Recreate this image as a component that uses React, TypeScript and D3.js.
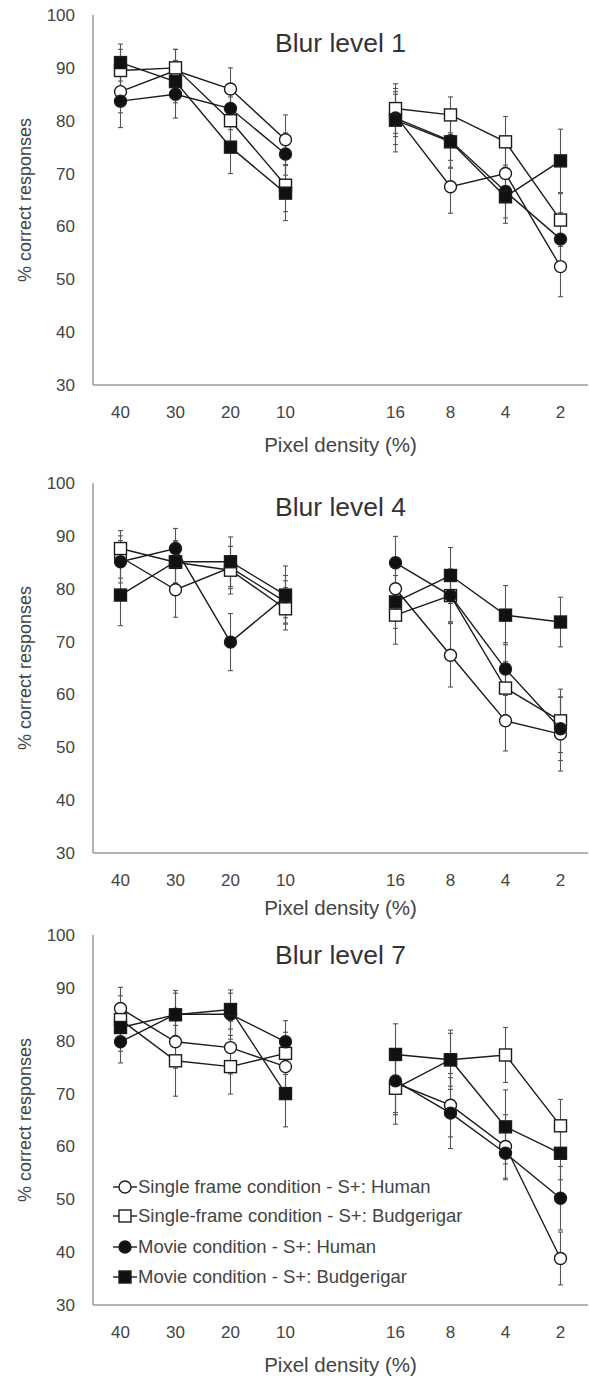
import React from "react";
import * as d3 from "d3";

// pixel density categories; "gap" is the empty slot between the two groups
const densityKeys = ["40", "30", "20", "10", "gap", "16", "8", "4", "2"];
const leftDensities = ["40", "30", "20", "10"];
const rightDensities = ["16", "8", "4", "2"];
const yTicks = [30, 40, 50, 60, 70, 80, 90, 100];

const seriesNames = [
  "Single frame condition - S+: Human",
  "Single-frame condition - S+: Budgerigar",
  "Movie condition - S+: Human",
  "Movie condition - S+: Budgerigar",
];

const blurTitles = ["Blur level 1", "Blur level 4", "Blur level 7"];

// Blur level 1 (values in density order 40,30,20,10,16,8,4,2)
const blur1SfHuman = [85.5, 89.5, 86, 76.4, 81, 67.5, 70, 52.4];
const blur1SfBudgie = [89.5, 90, 80, 67.8, 82.3, 81.1, 76, 61.2];
const blur1MovHuman = [83.7, 85, 82.3, 73.7, 80.5, 76.2, 66.6, 57.6];
const blur1MovBudgie = [91, 87.4, 75, 66.3, 80.1, 76, 65.6, 72.4];
const blur1SfHumanErr = [4, 4, 4, 4.7, 4, 5, 5, 5.7];
const blur1SfBudgieErr = [4, 3.5, 4.5, 5, 4.7, 3.4, 4.8, 5];
const blur1MovHumanErr = [5, 4.5, 4, 4, 5, 5, 5, 5];
const blur1MovBudgieErr = [3.5, 4, 5, 5.2, 6, 5, 5, 6];

// Blur level 4
const blur4SfHuman = [86, 79.8, 84, 77.5, 80, 67.4, 55, 52.5];
const blur4SfBudgie = [87.6, 85, 83.5, 76.2, 75, 78.7, 61.2, 55];
const blur4MovHuman = [85.1, 87.6, 69.9, 78.5, 84.9, 78.7, 64.8, 53.5];
const blur4MovBudgie = [78.8, 85.1, 85.1, 78.8, 77.5, 82.5, 75, 73.7];
const blur4SfHumanErr = [4, 5.2, 4, 4, 5, 6, 5.7, 7];
const blur4SfBudgieErr = [3.4, 4, 4.5, 4, 5.5, 5, 5, 6];
const blur4MovHumanErr = [4, 3.8, 5.4, 4, 5, 5, 5, 6];
const blur4MovBudgieErr = [5.8, 4, 4.7, 5.5, 5, 5.3, 5.6, 4.7];

// Blur level 7
const blur7SfHuman = [86.1, 79.8, 78.7, 75.1, 72, 67.8, 60, 38.8];
const blur7SfBudgie = [84, 76.2, 75.1, 77.6, 71, 76.4, 77.3, 63.9];
const blur7MovHuman = [79.8, 85, 85, 79.8, 72.4, 66.3, 58.7, 50.2];
const blur7MovBudgie = [82.5, 84.9, 85.9, 70, 77.4, 76.4, 63.7, 58.7];
const blur7SfHumanErr = [4, 5, 5, 4, 6, 6, 6, 5];
const blur7SfBudgieErr = [4.5, 6.7, 5.2, 4, 6.8, 5, 5.2, 5];
const blur7MovHumanErr = [4, 4, 4, 4, 6, 6.7, 5, 6];
const blur7MovBudgieErr = [4.5, 4.6, 3.7, 6.3, 5.8, 5.6, 7, 5];

const panelValues = [
  [blur1SfHuman, blur1SfBudgie, blur1MovHuman, blur1MovBudgie],
  [blur4SfHuman, blur4SfBudgie, blur4MovHuman, blur4MovBudgie],
  [blur7SfHuman, blur7SfBudgie, blur7MovHuman, blur7MovBudgie],
];
const panelErrors = [
  [blur1SfHumanErr, blur1SfBudgieErr, blur1MovHumanErr, blur1MovBudgieErr],
  [blur4SfHumanErr, blur4SfBudgieErr, blur4MovHumanErr, blur4MovBudgieErr],
  [blur7SfHumanErr, blur7SfBudgieErr, blur7MovHumanErr, blur7MovBudgieErr],
];

// layout / style
const W = 589;
const H = 1378;
const plotLeft = 93;
const plotRight = 588;
const panelTops = [15, 483, 935];
const plotH = 370;
const titleDy = [28, 24, 20];
const axisLabelDy = [60, 55, 60];
const markerShape = ["circle", "square", "circle", "square"];
const markerFill = ["#fff", "#fff", "#111", "#111"];
const lineColor = "#1c1c1c";
const axisColor = "#9a9a9a";
const textColor = "#444";
const font = "Liberation Sans, Arial, sans-serif";

const x = d3.scalePoint<string>().domain(densityKeys).range([plotLeft, plotRight]).padding(0.5);
const allDensities = [...leftDensities, ...rightDensities];

const Marker = ({ shape, cx, cy, fill }) =>
  shape === "circle" ? (
    <circle cx={cx} cy={cy} r={6} fill={fill} stroke={lineColor} strokeWidth={1.4} />
  ) : (
    <rect x={cx - 6} y={cy - 6} width={12} height={12} fill={fill} stroke={lineColor} strokeWidth={1.4} />
  );

const Panel = ({ idx }) => {
  const top = panelTops[idx];
  const bottom = top + plotH;
  const y = d3.scaleLinear().domain([30, 100]).range([bottom, top]);
  const line = d3
    .line<number>()
    .x((_, i) => x(leftDensities[i]))
    .y((d) => y(d));
  const lineR = d3
    .line<number>()
    .x((_, i) => x(rightDensities[i]))
    .y((d) => y(d));
  const values = panelValues[idx];
  const errors = panelErrors[idx];

  return (
    <g>
      {/* axes */}
      <line x1={plotLeft} x2={plotLeft} y1={top} y2={bottom} stroke={axisColor} strokeWidth={1.5} />
      <line x1={plotLeft} x2={plotRight} y1={bottom} y2={bottom} stroke={axisColor} strokeWidth={1.5} />
      {yTicks.map((t) => (
        <text key={t} x={75} y={y(t)} dy="0.35em" textAnchor="end" fontSize={17} fill={textColor} fontFamily={font}>
          {t}
        </text>
      ))}
      {allDensities.map((d) => (
        <text key={d} x={x(d)} y={bottom + 27} dy="0.35em" textAnchor="middle" fontSize={17} fill={textColor} fontFamily={font}>
          {d}
        </text>
      ))}
      <text
        x={(plotLeft + plotRight) / 2}
        y={bottom + axisLabelDy[idx]}
        dy="0.35em"
        textAnchor="middle"
        fontSize={20.5}
        fill={textColor}
        fontFamily={font}
      >
        Pixel density (%)
      </text>
      <text
        transform={`translate(25,${(top + bottom) / 2}) rotate(-90)`}
        dy="0.35em"
        textAnchor="middle"
        fontSize={18}
        fill={textColor}
        fontFamily={font}
      >
        % correct responses
      </text>
      <text
        x={(plotLeft + plotRight) / 2}
        y={top + titleDy[idx]}
        dy="0.35em"
        textAnchor="middle"
        fontSize={26.5}
        fill="#333"
        fontFamily={font}
      >
        {blurTitles[idx]}
      </text>

      {/* error bars */}
      {values.map((vals, s) =>
        vals.map((v, i) => {
          const cx = x(allDensities[i]);
          const e = errors[s][i];
          return (
            <g key={`e${s}-${i}`} stroke="#555" strokeWidth={1.1}>
              <line x1={cx} x2={cx} y1={y(v - e)} y2={y(v + e)} />
              <line x1={cx - 2.5} x2={cx + 2.5} y1={y(v - e)} y2={y(v - e)} />
              <line x1={cx - 2.5} x2={cx + 2.5} y1={y(v + e)} y2={y(v + e)} />
            </g>
          );
        })
      )}

      {/* series */}
      {values.map((vals, s) => (
        <g key={`s${s}`}>
          <path d={line(vals.slice(0, 4))} fill="none" stroke={lineColor} strokeWidth={1.4} />
          <path d={lineR(vals.slice(4))} fill="none" stroke={lineColor} strokeWidth={1.4} />
          {vals.map((v, i) => (
            <Marker key={i} shape={markerShape[s]} cx={x(allDensities[i])} cy={y(v)} fill={markerFill[s]} />
          ))}
        </g>
      ))}
    </g>
  );
};

const legendY = [1187, 1216, 1247, 1277];

const App = () => (
  <svg width={W} height={H} style={{ position: "absolute", left: 0, top: 0, background: "#fff" }}>
    {panelTops.map((_, i) => (
      <Panel key={i} idx={i} />
    ))}
    {seriesNames.map((name, s) => (
      <g key={name}>
        <line x1={113} x2={137} y1={legendY[s]} y2={legendY[s]} stroke={lineColor} strokeWidth={1.4} />
        <Marker shape={markerShape[s]} cx={125} cy={legendY[s]} fill={markerFill[s]} />
        <text x={138} y={legendY[s]} dy="0.35em" fontSize={18.5} fill={textColor} fontFamily={font}>
          {name}
        </text>
      </g>
    ))}
  </svg>
);

export default App;
